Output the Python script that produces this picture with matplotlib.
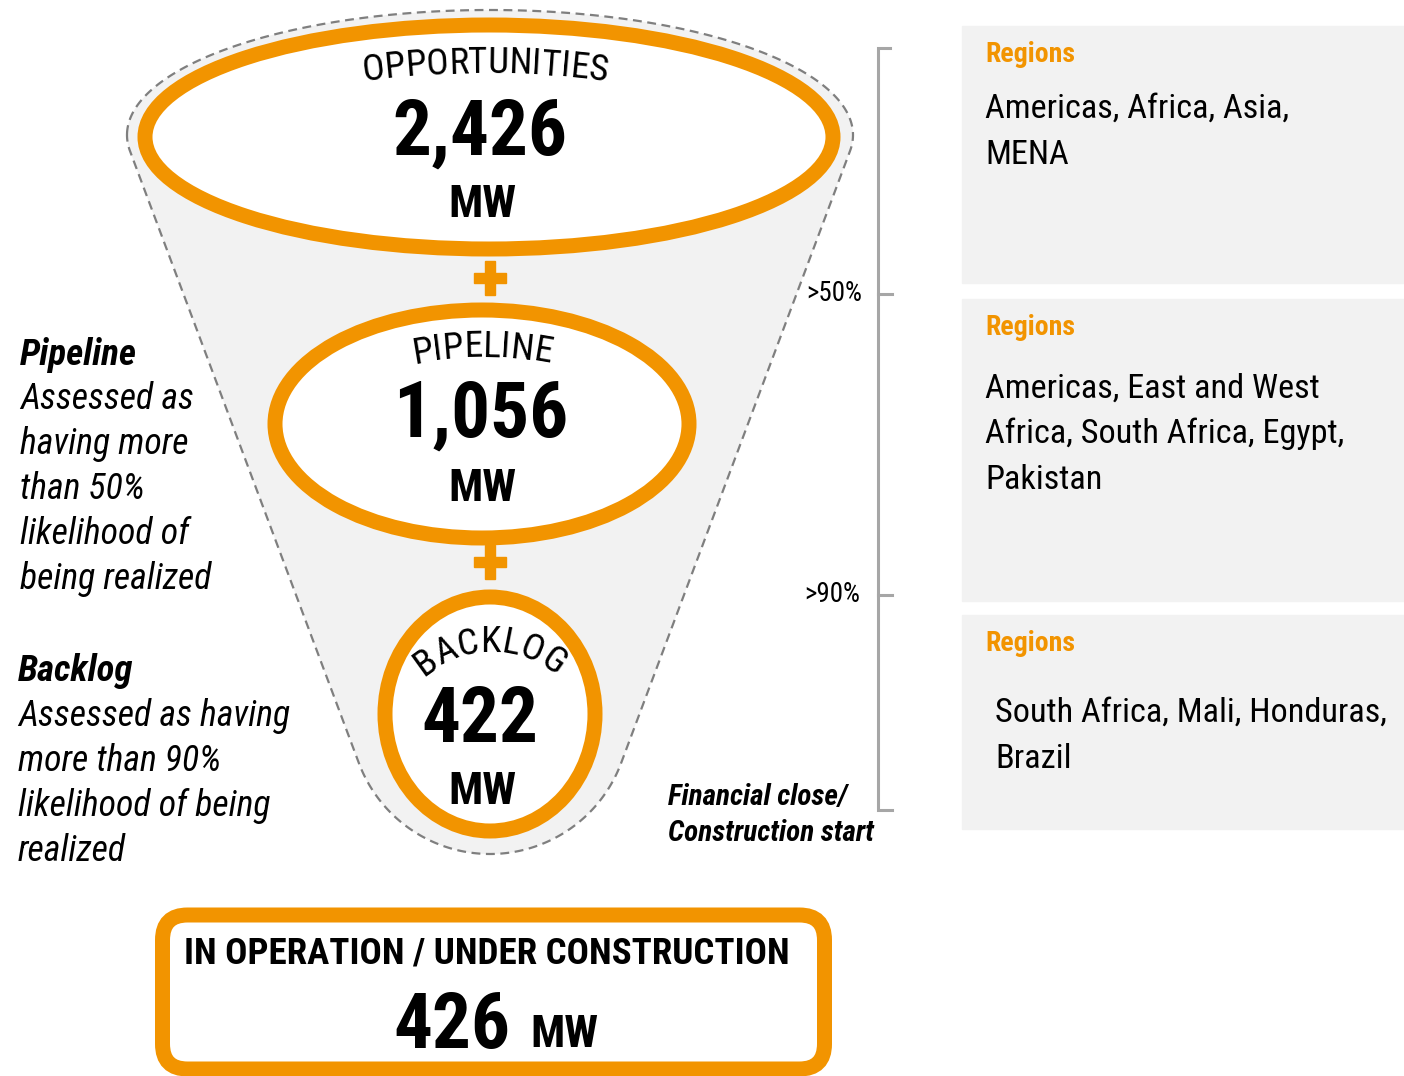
import numpy as np
import matplotlib
matplotlib.use('Agg')
import matplotlib.pyplot as plt
from matplotlib.patches import Ellipse, Rectangle, FancyBboxPatch, Polygon
from matplotlib.font_manager import FontProperties, fontManager
from matplotlib.textpath import TextToPath

# data
stage_names = ['OPPORTUNITIES', 'PIPELINE', 'BACKLOG']
stage_mw = [2426, 1056, 422]
operating_label = 'IN OPERATION / UNDER CONSTRUCTION'
operating_mw = 426
thresholds = ['>50%', '>90%']
pipeline_note = ['Assessed as', 'having more', 'than 50%', 'likelihood of', 'being realized']
backlog_note = ['Assessed as having', 'more than 90%', 'likelihood of being', 'realized']
close_note = ['Financial close/', 'Construction start']
regions = [
    ['Americas, Africa, Asia,', 'MENA'],
    ['Americas, East and West', 'Africa, South Africa, Egypt,', 'Pakistan'],
    ['South Africa, Mali, Honduras,', 'Brazil'],
]

# pick a narrow sans with bold and italic faces
faces = {}
for f in fontManager.ttflist:
    faces.setdefault(f.name, set()).add((f.style, int(f.weight) >= 600))
FONT = 'DejaVu Sans'
for cand in ['Liberation Sans Narrow', 'Arial Narrow', 'Archivo Narrow', 'Roboto Condensed',
             'PT Sans Narrow', 'Fira Sans Condensed', 'Pragati Narrow', 'Sofia Sans Condensed']:
    fs = faces.get(cand, set())
    if ('normal', True) in fs and any(s == 'italic' for s, _ in fs):
        FONT = cand
        break
plt.rcParams['font.family'] = [FONT, 'DejaVu Sans']

ORANGE = '#f29400'
GREY = '#f2f2f2'
W, H = 1404, 1076

t2p = TextToPath()


def width_px(s, size, weight='normal', style='normal'):
    fp = FontProperties(family=FONT, size=size, weight=weight, style=style)
    return t2p.get_text_width_height_descent(s, fp, ismath=False)[0] * 100 / 72


def fit(s, target, weight='normal', style='normal'):
    return 20 * target / width_px(s, 20, weight, style)


fig = plt.figure(figsize=(W / 100, H / 100), dpi=100)
ax = fig.add_axes([0, 0, 1, 1])
ax.set_xlim(0, W)
ax.set_ylim(H, 0)
ax.axis('off')


def hull(pts):
    pts = sorted(map(tuple, pts))
    def cross(o, a, b):
        return (a[0] - o[0]) * (b[1] - o[1]) - (a[1] - o[1]) * (b[0] - o[0])
    lo, up = [], []
    for p in pts:
        while len(lo) >= 2 and cross(lo[-2], lo[-1], p) <= 0:
            lo.pop()
        lo.append(p)
    for p in reversed(pts):
        while len(up) >= 2 and cross(up[-2], up[-1], p) <= 0:
            up.pop()
        up.append(p)
    return np.array(lo[:-1] + up[:-1])


# funnel background
t = np.linspace(0, 2 * np.pi, 400)
top = np.c_[490 + 363 * np.cos(t), 135 + 125 * np.sin(t)]
bot = np.c_[490 + 140 * np.cos(t), 714 + 140 * np.sin(t)]
ax.add_patch(Polygon(hull(np.r_[top, bot]), closed=True, facecolor=GREY,
                     edgecolor='#7f7f7f', lw=1.6, ls=(0, (4, 2.5)), zorder=1))

# stage rings
rings = [(489, 137, 344, 112), (482, 424, 207, 114), (490, 714, 105, 117)]
for cx, cy, a, b in rings:
    ax.add_patch(Ellipse((cx, cy), 2 * a, 2 * b, facecolor='white',
                         edgecolor=ORANGE, lw=10.8, zorder=2))

# plus signs
for py in [278, 562]:
    ax.add_patch(Rectangle((490 - 16, py - 5), 32, 10, color=ORANGE, zorder=2))
    ax.add_patch(Rectangle((490 - 5, py - 17), 10, 34, color=ORANGE, zorder=2))


def arc_text(s, cx, cy, r, size):
    fp = FontProperties(family=FONT, size=size)
    k = 100 / 72
    total = t2p.get_text_width_height_descent(s, fp, ismath=False)[0] * k
    for i, ch in enumerate(s):
        x0 = t2p.get_text_width_height_descent(s[:i], fp, ismath=False)[0] * k if i else 0
        w = t2p.get_text_width_height_descent(ch, fp, ismath=False)[0] * k
        phi = (x0 + w / 2 - total / 2) / r
        ax.text(cx + r * np.sin(phi), cy - r * np.cos(phi), ch, fontsize=size,
                rotation=-np.degrees(phi), rotation_mode='anchor',
                ha='center', va='baseline', zorder=3)


arc_size = fit(stage_names[0], 244)
arc_text(stage_names[0], 485, 73 + 900, 900, arc_size)
arc_text(stage_names[1], 482, 357 + 350, 350, arc_size)
arc_text(stage_names[2], 490, 752, 100, arc_size)

num_size = fit('2,426', 175, 'bold')
mw_size = fit('MW', 68, 'bold')
num_pos = [(480, 155, 482, 217), (481, 437, 482, 501), (480, 742, 482, 804)]
for mw, (nx, ny, ux, uy) in zip(stage_mw, num_pos):
    ax.text(nx, ny, f'{mw:,}', fontsize=num_size, fontweight='bold', ha='center',
            va='baseline', zorder=3)
    ax.text(ux, uy, 'MW', fontsize=mw_size, fontweight='bold', ha='center',
            va='baseline', zorder=3)

# left notes
note_size = fit('Assessed as having', 272, style='italic')
head_size = fit('Pipeline', 117, 'bold', 'italic')
ax.text(20, 365, 'Pipeline', fontsize=head_size, fontweight='bold', style='italic', va='baseline')
for i, line in enumerate(pipeline_note):
    ax.text(20, 409 + 45 * i, line, fontsize=note_size, style='italic', va='baseline')
ax.text(18, 681, 'Backlog', fontsize=head_size, fontweight='bold', style='italic', va='baseline')
for i, line in enumerate(backlog_note):
    ax.text(18, 726 + 45 * i, line, fontsize=note_size, style='italic', va='baseline')

close_size = fit(close_note[0], 180, 'bold', 'italic')
for i, line in enumerate(close_note):
    ax.text(668, 805 + 36 * i, line, fontsize=close_size, fontweight='bold', style='italic',
            va='baseline')

# bracket
bc = '#a6a6a6'
thr_size = fit('>50%', 56)
ax.plot([890, 878, 878, 892], [48, 48, 810, 810], color=bc, lw=2.2, solid_joinstyle='miter')
for ty, lab, lx in zip([294, 595], thresholds, [862, 860]):
    ax.plot([878, 892], [ty, ty], color=bc, lw=2.2)
    ax.text(lx, ty + 7, lab, fontsize=thr_size, ha='right', va='baseline')

# region boxes
reg_size = fit('Regions', 90, 'bold')
body_size = fit(regions[0][0], 305)
boxes = [(26, 283, 985, 118), (299, 601, 985, 398), (615, 829, 995, 722)]
for (y0, y1, tx, first), lines in zip(boxes, regions):
    ax.add_patch(Rectangle((962, y0), W - 962, y1 - y0, color=GREY, zorder=0))
    ax.text(985, y0 + 36, 'Regions', fontsize=reg_size, fontweight='bold', color=ORANGE,
            va='baseline')
    for i, line in enumerate(lines):
        ax.text(tx, first + 45.5 * i, line, fontsize=body_size, va='baseline')

# bottom box
ax.add_patch(FancyBboxPatch((162.5 + 25, 915 + 25), 662 - 50, 154 - 50,
                            boxstyle='round,pad=25', facecolor='white',
                            edgecolor=ORANGE, lw=10.8, zorder=2))
ax.text(487, 963, operating_label, fontsize=fit(operating_label, 606, 'bold'),
        fontweight='bold', ha='center', va='baseline', zorder=3)
ax.text(452, 1048, f'{operating_mw}', fontsize=fit('426', 117, 'bold'), fontweight='bold',
        ha='center', va='baseline', zorder=3)
ax.text(564, 1047, 'MW', fontsize=mw_size, fontweight='bold', ha='center',
        va='baseline', zorder=3)

fig.savefig('out.png', dpi=100)
